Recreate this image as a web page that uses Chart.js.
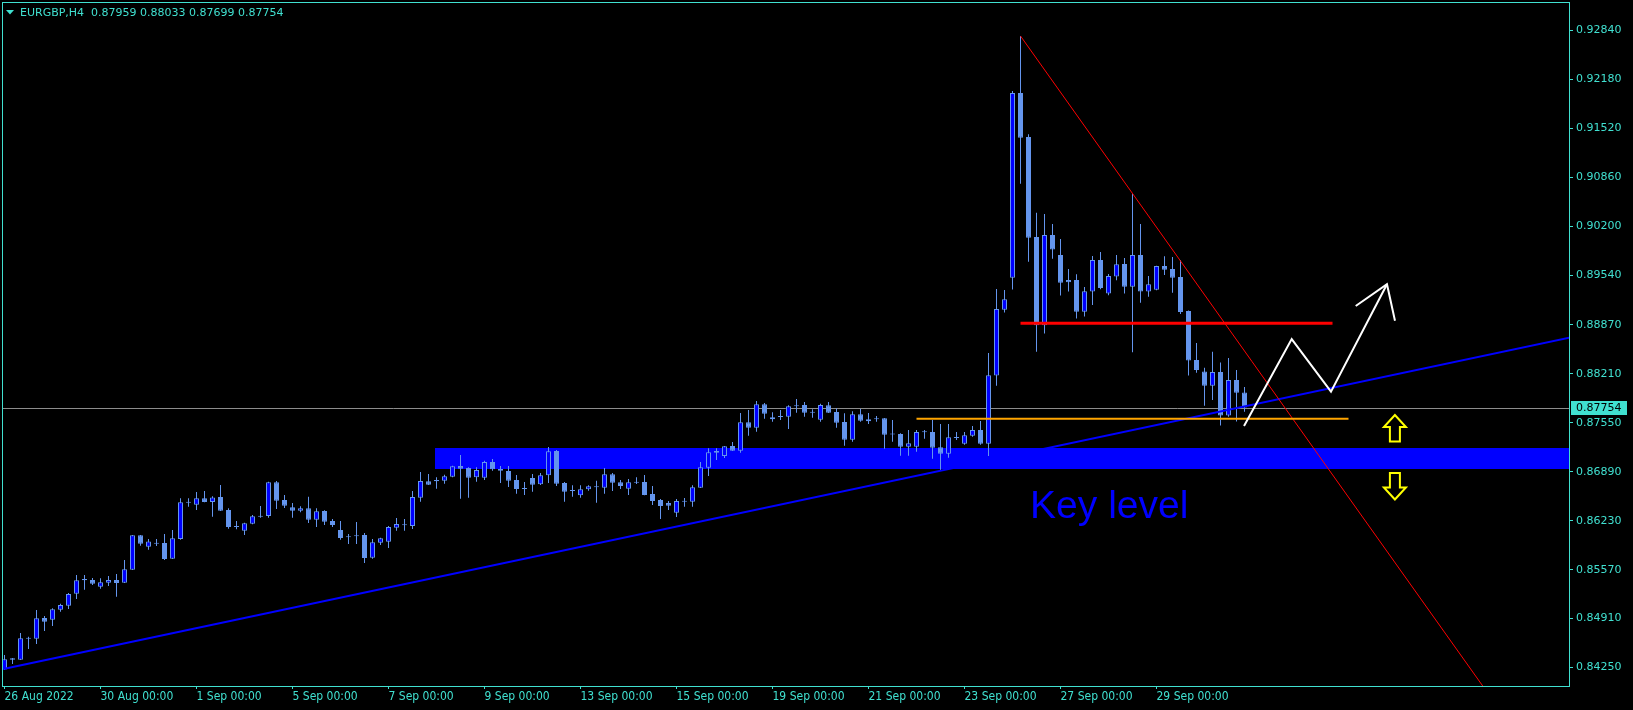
<!DOCTYPE html>
<html>
<head>
<meta charset="utf-8">
<script src="https://cdn.jsdelivr.net/npm/chart.js@4.4.0/dist/chart.umd.min.js"></script>
<style>
html,body{margin:0;padding:0;background:#000;overflow:hidden}
#wrap{width:1633px;height:710px;position:relative;background:#000}
canvas{display:block}
</style>
</head>
<body>
<div id="wrap"><canvas id="c" width="1633" height="710"></canvas></div>
<script>
// ---------- data (EURGBP H4, 26 Aug 2022 00:00 .. 30 Sep 2022 20:00) ----------
const symbolTitle = "EURGBP,H4";
const opens = [
0.84226,0.84375,0.84357,0.84649,0.84640,0.84918,0.84896,0.85031,0.85085,0.85246,
0.85444,0.85430,0.85341,0.85394,0.85430,0.85394,0.85570,0.86032,0.85880,0.85934,
0.85929,0.85718,0.85983,0.86477,0.86446,0.86531,0.86482,0.86549,0.86374,0.86154,
0.86095,0.86190,0.86297,0.86293,0.86747,0.86508,0.86410,0.86365,0.86396,0.86243,
0.86360,0.86226,0.86104,0.86019,0.86032,0.86037,0.85731,0.85934,0.85947,0.86136,
0.86181,0.86158,0.86540,0.86760,0.86778,0.86769,0.86823,0.86967,0.86940,0.86814,
0.86810,0.87021,0.86926,0.86899,0.86778,0.86670,0.86805,0.86720,0.86841,0.87169,
0.86738,0.86643,0.86572,0.86652,0.86693,0.86675,0.86855,0.86747,0.86661,0.86751,
0.86751,0.86589,0.86509,0.86468,0.86338,0.86495,0.86486,0.86675,0.86944,0.87146,
0.87102,0.87236,0.87173,0.87555,0.87483,0.87798,0.87596,0.87636,0.87632,0.87784,
0.87789,0.87690,0.87591,0.87785,0.87695,0.87560,0.87322,0.87663,0.87569,0.87605,
0.87609,0.87403,0.87398,0.87227,0.87227,0.87430,0.87425,0.87218,0.87133,0.87353,
0.87268,0.87376,0.87452,0.87268,0.88185,0.89074,0.89505,0.91994,0.91401,0.90053,
0.88863,0.90080,0.89811,0.89474,0.89474,0.89047,0.89317,0.89743,0.89290,0.89519,
0.89689,0.89384,0.89811,0.89317,0.89343,0.89662,0.89622,0.89514,0.89056,0.88396,
0.88239,0.88050,0.88234,0.87646,0.88126,0.87959];
const highs = [
0.84420,0.84379,0.84716,0.84667,0.85026,0.84945,0.85049,0.85111,0.85255,0.85498,
0.85498,0.85457,0.85453,0.85484,0.85511,0.85700,0.86037,0.86037,0.85983,0.85983,
0.86050,0.86104,0.86531,0.86531,0.86616,0.86630,0.86558,0.86711,0.86396,0.86225,
0.86203,0.86306,0.86428,0.86756,0.86764,0.86576,0.86468,0.86423,0.86553,0.86396,
0.86369,0.86252,0.86225,0.86050,0.86212,0.86064,0.85983,0.86001,0.86158,0.86266,
0.86252,0.86630,0.86886,0.86859,0.86814,0.86850,0.86971,0.87115,0.86949,0.86949,
0.87039,0.87061,0.86967,0.86967,0.86846,0.86751,0.86859,0.86872,0.87223,0.87182,
0.86751,0.86706,0.86706,0.86706,0.86769,0.86940,0.86872,0.86778,0.86792,0.86814,
0.86846,0.86697,0.86522,0.86495,0.86522,0.86535,0.86706,0.87021,0.87205,0.87205,
0.87236,0.87290,0.87681,0.87721,0.87843,0.87816,0.87690,0.87721,0.87784,0.87870,
0.87829,0.87730,0.87807,0.87829,0.87744,0.87677,0.87704,0.87735,0.87681,0.87641,
0.87614,0.87587,0.87407,0.87452,0.87452,0.87452,0.87587,0.87533,0.87533,0.87425,
0.87425,0.87506,0.87573,0.88490,0.89353,0.89339,0.92021,0.92762,0.91437,0.90381,
0.90363,0.90228,0.90026,0.89622,0.89550,0.89379,0.89797,0.89851,0.89555,0.89811,
0.89770,0.90637,0.90228,0.89528,0.89667,0.89793,0.89784,0.89743,0.89061,0.88625,
0.88292,0.88508,0.88360,0.88423,0.88261,0.88033];
const lows = [
0.84218,0.84298,0.84352,0.84501,0.84568,0.84743,0.84811,0.85004,0.85040,0.85174,
0.85300,0.85363,0.85314,0.85350,0.85206,0.85390,0.85565,0.85893,0.85839,0.85888,
0.85700,0.85713,0.85974,0.86419,0.86374,0.86477,0.86284,0.86360,0.86122,0.86113,
0.86037,0.86181,0.86270,0.86270,0.86387,0.86401,0.86270,0.86342,0.86199,0.86145,
0.86172,0.86145,0.85974,0.85916,0.85916,0.85660,0.85718,0.85902,0.85862,0.86095,
0.86095,0.86118,0.86486,0.86711,0.86661,0.86729,0.86814,0.86527,0.86540,0.86756,
0.86778,0.86904,0.86738,0.86684,0.86594,0.86576,0.86621,0.86711,0.86738,0.86697,
0.86486,0.86554,0.86540,0.86634,0.86473,0.86594,0.86630,0.86657,0.86576,0.86724,
0.86571,0.86441,0.86253,0.86374,0.86280,0.86419,0.86419,0.86670,0.86832,0.87048,
0.87075,0.87169,0.87146,0.87376,0.87429,0.87605,0.87564,0.87587,0.87465,0.87685,
0.87632,0.87618,0.87564,0.87681,0.87483,0.87241,0.87295,0.87564,0.87533,0.87564,
0.87200,0.87295,0.87106,0.87106,0.87160,0.87335,0.87066,0.86913,0.87079,0.87317,
0.87254,0.87362,0.87254,0.87102,0.88050,0.89034,0.89344,0.90772,0.89721,0.88508,
0.88751,0.89761,0.89263,0.89317,0.88953,0.88980,0.89137,0.89348,0.89268,0.89469,
0.89290,0.88499,0.89168,0.89249,0.89335,0.89541,0.89303,0.89016,0.88185,0.88225,
0.87780,0.87857,0.87511,0.87632,0.87565,0.87699];
const closes = [
0.84361,0.84357,0.84644,0.84640,0.84914,0.84869,0.85035,0.85094,0.85242,0.85426,
0.85426,0.85381,0.85399,0.85430,0.85390,0.85574,0.86032,0.85920,0.85951,0.85920,
0.85713,0.85992,0.86477,0.86472,0.86531,0.86482,0.86544,0.86365,0.86145,0.86145,
0.86194,0.86288,0.86284,0.86747,0.86500,0.86432,0.86365,0.86396,0.86243,0.86356,
0.86217,0.86172,0.85996,0.86005,0.86019,0.85727,0.85938,0.85992,0.86145,0.86185,
0.86167,0.86549,0.86764,0.86715,0.86760,0.86828,0.86962,0.86931,0.86810,0.86913,
0.87021,0.86922,0.86904,0.86769,0.86657,0.86657,0.86715,0.86841,0.87164,0.86729,
0.86621,0.86630,0.86652,0.86693,0.86679,0.86855,0.86742,0.86697,0.86747,0.86742,
0.86576,0.86495,0.86428,0.86432,0.86495,0.86486,0.86679,0.86949,0.87151,0.87169,
0.87232,0.87173,0.87555,0.87483,0.87798,0.87672,0.87623,0.87627,0.87771,0.87771,
0.87685,0.87685,0.87789,0.87686,0.87551,0.87322,0.87663,0.87578,0.87596,0.87596,
0.87389,0.87393,0.87227,0.87272,0.87425,0.87421,0.87214,0.87133,0.87353,0.87344,
0.87380,0.87452,0.87268,0.88189,0.89083,0.89213,0.91994,0.91392,0.90044,0.88863,
0.90080,0.89883,0.89438,0.89442,0.89047,0.89321,0.89743,0.89366,0.89528,0.89685,
0.89384,0.89811,0.89317,0.89415,0.89662,0.89613,0.89505,0.89043,0.88387,0.88261,
0.88050,0.88234,0.87646,0.88126,0.87955,0.87754];
const xTickIndex  = [0,12,24,36,48,60,72,84,96,108,120,132,144];
const xTickLabels = ["26 Aug 2022","30 Aug 00:00","1 Sep 00:00","5 Sep 00:00","7 Sep 00:00",
  "9 Sep 00:00","13 Sep 00:00","15 Sep 00:00","19 Sep 00:00","21 Sep 00:00",
  "23 Sep 00:00","27 Sep 00:00","29 Sep 00:00"];
const yTicks = [0.84250,0.84910,0.85570,0.86230,0.86890,0.87550,0.88210,
  0.88870,0.89540,0.90200,0.90860,0.91520,0.92180,0.92840];

// ---------- drawn objects, in (bar index, price) ----------
const keyZone    = {from: 53.8, top: 0.87203, bottom: 0.86926};
const trendUp    = [[-0.15, 0.84231], [150, 0.87655]];
const trendDown  = [[127, 0.92762], [150, 0.89275]];
const resistance = {from: 127, to: 166, price: 0.88890};
const support    = {from: 114, to: 168, price: 0.87604};
const zigzag     = [[154.94, 0.87506], [160.9, 0.88678], [165.81, 0.87968], [172.81, 0.89416]];
const arrowHead  = [[168.9, 0.89123], [172.81, 0.89416], [173.81, 0.88925]];
const upArrow    = {x: 173.8, price: 0.87472};
const downArrow  = {x: 173.8, price: 0.86697};
const keyLabel   = {x: 128.2, price: 0.86262, text: "Key level"};

const CYAN = '#40E0D0', LBLUE = '#6495ED', BLUE = '#0000FF';
const last = opens.length - 1;
const currentPrice = closes[last];

const idx = opens.map((_, i) => i);
const bodyData = idx.map(i => ({x: i, y: [opens[i], closes[i]]}));
const wickData = idx.map(i => ({x: i, y: [lows[i], highs[i]]}));
const bodyColors = idx.map(i => closes[i] > opens[i] ? BLUE : LBLUE);

function px(chart, p) {
  return [chart.scales.x.getPixelForValue(p[0]), chart.scales.y.getPixelForValue(p[1])];
}

const mt4Plugin = {
  id: 'mt4',
  beforeDatasetsDraw(chart) {
    const {ctx, chartArea: a, scales: {x, y}} = chart;
    ctx.save();
    ctx.beginPath(); ctx.rect(a.left, a.top, a.right - a.left, a.bottom - a.top); ctx.clip();
    const zx = x.getPixelForValue(keyZone.from);
    const zt = y.getPixelForValue(keyZone.top), zb = y.getPixelForValue(keyZone.bottom);
    ctx.fillStyle = BLUE;
    ctx.fillRect(Math.round(zx), Math.round(zt), a.right - Math.round(zx), Math.round(zb) - Math.round(zt));
    const py = Math.round(y.getPixelForValue(currentPrice)) + 0.5;
    ctx.strokeStyle = '#8c8c8c'; ctx.lineWidth = 1;
    ctx.beginPath(); ctx.moveTo(a.left, py); ctx.lineTo(a.right, py); ctx.stroke();
    ctx.restore();
  },
  afterDatasetsDraw(chart) {
    const {ctx, chartArea: a, scales: {x, y}} = chart;
    ctx.save();
    ctx.beginPath(); ctx.rect(a.left, a.top, a.right - a.left, a.bottom - a.top); ctx.clip();
    const ray = (pts, color, w) => {
      const [x1, y1] = px(chart, pts[0]), [x2, y2] = px(chart, pts[1]);
      const k = 50;
      ctx.strokeStyle = color; ctx.lineWidth = w;
      ctx.beginPath(); ctx.moveTo(x1, y1); ctx.lineTo(x1 + (x2 - x1) * k, y1 + (y2 - y1) * k); ctx.stroke();
    };
    const hline = (o, color, w) => {
      const yy = y.getPixelForValue(o.price);
      ctx.strokeStyle = color; ctx.lineWidth = w;
      ctx.beginPath(); ctx.moveTo(x.getPixelForValue(o.from), yy); ctx.lineTo(x.getPixelForValue(o.to), yy); ctx.stroke();
    };
    const poly = (pts, color, w) => {
      ctx.strokeStyle = color; ctx.lineWidth = w; ctx.lineJoin = 'miter';
      ctx.beginPath();
      pts.forEach((p, i) => { const [xx, yy] = px(chart, p); i ? ctx.lineTo(xx, yy) : ctx.moveTo(xx, yy); });
      ctx.stroke();
    };
    ray(trendUp, BLUE, 2);
    ray(trendDown, '#FF0000', 1);
    hline(support, '#FFA500', 2);
    hline(resistance, '#FF0000', 3);
    poly(zigzag, '#FFFFFF', 2);
    poly(arrowHead, '#FFFFFF', 2);
    // yellow arrows
    const arrow = (o, up) => {
      const cx = x.getPixelForValue(o.x), cy = y.getPixelForValue(o.price);
      const s = up ? 1 : -1;
      const pts = [[0, -13.5], [11, -1.5], [5, -1.5], [5, 13], [-5, 13], [-5, -1.5], [-11, -1.5]];
      ctx.beginPath();
      pts.forEach((p, i) => { const xx = cx + p[0], yy = cy + s * p[1]; i ? ctx.lineTo(xx, yy) : ctx.moveTo(xx, yy); });
      ctx.closePath();
      ctx.fillStyle = '#000'; ctx.fill();
      ctx.strokeStyle = '#FFFF00'; ctx.lineWidth = 2; ctx.stroke();
    };
    arrow(upArrow, true);
    arrow(downArrow, false);
    ctx.fillStyle = BLUE;
    ctx.font = "39px 'Liberation Sans', Arial, sans-serif";
    ctx.textBaseline = 'alphabetic'; ctx.textAlign = 'left';
    ctx.fillText(keyLabel.text, x.getPixelForValue(keyLabel.x), y.getPixelForValue(keyLabel.price));
    ctx.restore();
  },
  afterDraw(chart) {
    const {ctx, chartArea: a, scales: {y}} = chart;
    ctx.save();
    ctx.strokeStyle = CYAN; ctx.lineWidth = 1;
    ctx.strokeRect(a.left + 0.5, a.top + 0.5, a.right - a.left, a.bottom - a.top);
    // header
    ctx.fillStyle = CYAN;
    ctx.beginPath(); ctx.moveTo(6, 10); ctx.lineTo(14, 10); ctx.lineTo(10, 14.5); ctx.closePath(); ctx.fill();
    ctx.font = "11px 'DejaVu Sans', sans-serif";
    ctx.textBaseline = 'middle'; ctx.textAlign = 'left';
    const f = v => v.toFixed(5);
    ctx.fillText(symbolTitle + "  " + [opens[last], highs[last], lows[last], closes[last]].map(f).join(" "), 20, 13);
    // current price label
    const py = Math.round(y.getPixelForValue(currentPrice));
    ctx.fillStyle = CYAN;
    ctx.fillRect(a.right + 2, py - 7, 56, 14);
    ctx.fillStyle = '#000';
    ctx.fillText(f(currentPrice), a.right + 7, py + 0.5);
    ctx.restore();
  }
};

new Chart(document.getElementById('c'), {
  type: 'bar',
  data: {
    datasets: [
      {data: wickData, backgroundColor: LBLUE, borderWidth: 0, barThickness: 1,
       grouped: false, order: 2, inflateAmount: 0, minBarLength: 1},
      {data: bodyData, backgroundColor: bodyColors, borderColor: LBLUE, borderWidth: 1,
       borderSkipped: false, barThickness: 5, grouped: false, order: 1, inflateAmount: 0, minBarLength: 1}
    ]
  },
  options: {
    responsive: false,
    animation: false,
    devicePixelRatio: 1,
    layout: {padding: {left: 2, top: 2, right: 0, bottom: 0}},
    plugins: {legend: {display: false}, tooltip: {enabled: false}},
    scales: {
      x: {
        type: 'linear', position: 'bottom', offset: false,
        min: -0.3125, max: 195.5625,
        afterBuildTicks: s => { s.ticks = xTickIndex.map(v => ({value: v})); },
        afterFit: s => { s.height = 24; s.paddingLeft = 0; s.paddingRight = 0; },
        grid: {display: true, drawOnChartArea: false, drawTicks: true, tickLength: 3, color: CYAN, offset: false},
        border: {display: false},
        ticks: {color: CYAN, autoSkip: false, maxRotation: 0, minRotation: 0, align: 'start', padding: 1,
          font: {family: "'DejaVu Sans Condensed', 'DejaVu Sans', sans-serif", size: 12},
          callback: (v, i) => xTickLabels[i]}
      },
      y: {
        type: 'linear', position: 'right',
        min: 0.84002, max: 0.93220, beginAtZero: false,
        afterBuildTicks: s => { s.ticks = yTicks.map(v => ({value: v})); },
        afterFit: s => { s.width = 64; s.paddingTop = 0; s.paddingBottom = 0; },
        grid: {display: true, drawOnChartArea: false, drawTicks: true, tickLength: 4, color: CYAN},
        border: {display: false},
        ticks: {color: CYAN, padding: 3, autoSkip: false,
          font: {family: "'DejaVu Sans', sans-serif", size: 11},
          callback: v => Number(v).toFixed(5)}
      }
    }
  },
  plugins: [mt4Plugin]
});
</script>
</body>
</html>
